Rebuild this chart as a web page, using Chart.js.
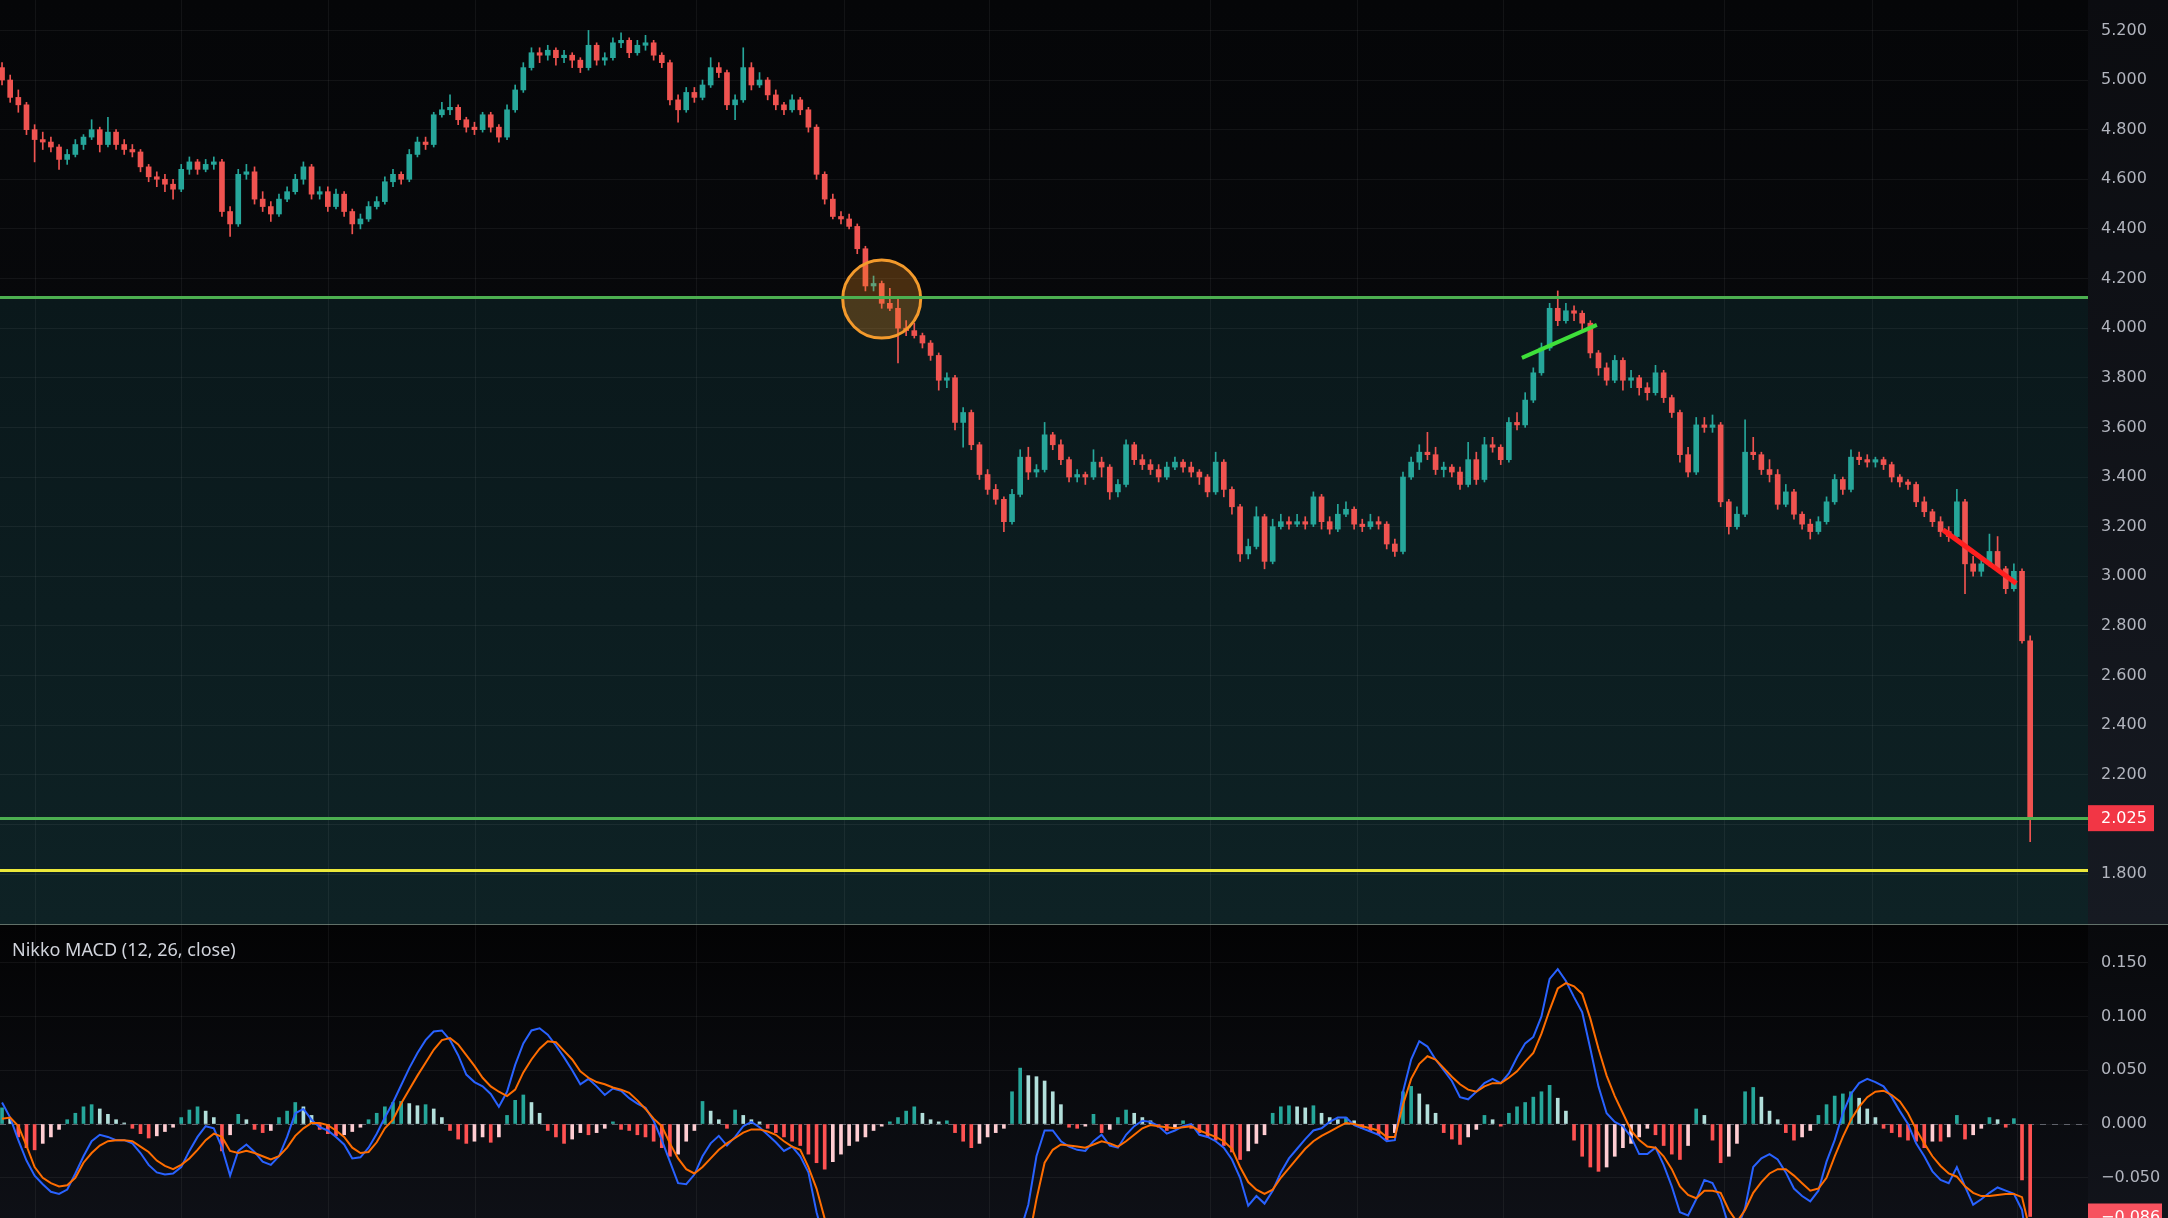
<!DOCTYPE html>
<html>
<head>
<meta charset="utf-8">
<title>Nikko MACD</title>
<script src="https://cdn.jsdelivr.net/npm/chart.js@4.4.1/dist/chart.umd.min.js"></script>
<style>
  html, body { margin: 0; padding: 0; background: #0b0c10; overflow: hidden; }
  canvas { display: block; }
</style>
</head>
<body>
<canvas id="price" width="2168" height="924" style="width:2168px;height:924px"></canvas>
<canvas id="macd" width="2168" height="294" style="width:2168px;height:294px"></canvas>
<script>
// candles
const opens = [
  5.05, 5.00, 4.93, 4.90, 4.80, 4.76, 4.75, 4.73, 4.68, 4.70,
  4.74, 4.77, 4.80, 4.74, 4.79, 4.74, 4.72, 4.71, 4.65, 4.61,
  4.60, 4.58, 4.56, 4.64, 4.67, 4.64, 4.66, 4.67, 4.47, 4.42,
  4.62, 4.63, 4.52, 4.49, 4.46, 4.52, 4.55, 4.60, 4.65, 4.54,
  4.55, 4.49, 4.54, 4.47, 4.42, 4.44, 4.49, 4.51, 4.59, 4.62,
  4.60, 4.70, 4.75, 4.74, 4.86, 4.88, 4.89, 4.84, 4.81, 4.80,
  4.86, 4.81, 4.77, 4.88, 4.96, 5.05, 5.11, 5.10, 5.12, 5.09,
  5.10, 5.08, 5.05, 5.14, 5.08, 5.09, 5.15, 5.16, 5.11, 5.14,
  5.15, 5.10, 5.07, 4.92, 4.88, 4.95, 4.93, 4.98, 5.05, 5.03,
  4.90, 4.92, 5.05, 4.98, 5.00, 4.94, 4.90, 4.88, 4.92, 4.88,
  4.81, 4.62, 4.52, 4.45, 4.44, 4.41, 4.32, 4.17, 4.18, 4.10,
  4.08, 4.00, 3.99, 3.97, 3.94, 3.89, 3.79, 3.80, 3.62, 3.66,
  3.53, 3.41, 3.35, 3.31, 3.22, 3.33, 3.48, 3.42, 3.43, 3.57,
  3.53, 3.47, 3.40, 3.41, 3.40, 3.46, 3.44, 3.34, 3.37, 3.53,
  3.47, 3.45, 3.43, 3.40, 3.44, 3.46, 3.44, 3.42, 3.40, 3.34,
  3.46, 3.35, 3.28, 3.09, 3.12, 3.24, 3.06, 3.20, 3.22, 3.21,
  3.22, 3.21, 3.32, 3.22, 3.19, 3.25, 3.27, 3.21, 3.20, 3.22,
  3.21, 3.13, 3.10, 3.40, 3.46, 3.50, 3.49, 3.43, 3.44, 3.42,
  3.37, 3.47, 3.39, 3.53, 3.52, 3.47, 3.62, 3.61, 3.71, 3.82,
  3.92, 4.08, 4.03, 4.07, 4.06, 4.02, 3.90, 3.84, 3.79, 3.87,
  3.79, 3.80, 3.76, 3.74, 3.82, 3.72, 3.66, 3.49, 3.42, 3.61,
  3.60, 3.61, 3.30, 3.20, 3.25, 3.50, 3.49, 3.43, 3.41, 3.29,
  3.34, 3.25, 3.21, 3.18, 3.22, 3.30, 3.39, 3.35, 3.48, 3.47,
  3.46, 3.47, 3.45, 3.40, 3.38, 3.37, 3.30, 3.26, 3.22, 3.18,
  3.16, 3.30, 3.05, 3.02, 3.05, 3.10, 3.03, 2.95, 3.02, 2.74
];
const highs = [
  5.07, 5.02, 4.96, 4.91, 4.82, 4.79, 4.77, 4.74, 4.72, 4.76,
  4.78, 4.84, 4.81, 4.85, 4.80, 4.76, 4.74, 4.72, 4.66, 4.63,
  4.62, 4.60, 4.66, 4.69, 4.68, 4.68, 4.69, 4.68, 4.49, 4.64,
  4.66, 4.65, 4.55, 4.51, 4.54, 4.57, 4.62, 4.67, 4.66, 4.57,
  4.57, 4.56, 4.55, 4.48, 4.46, 4.51, 4.53, 4.61, 4.64, 4.63,
  4.72, 4.77, 4.77, 4.87, 4.91, 4.94, 4.90, 4.85, 4.83, 4.87,
  4.87, 4.82, 4.90, 4.98, 5.07, 5.13, 5.13, 5.14, 5.13, 5.12,
  5.11, 5.09, 5.20, 5.15, 5.11, 5.17, 5.19, 5.17, 5.16, 5.18,
  5.16, 5.11, 5.08, 4.94, 4.97, 4.97, 5.00, 5.09, 5.07, 5.04,
  4.94, 5.13, 5.07, 5.03, 5.01, 4.96, 4.91, 4.94, 4.93, 4.89,
  4.82, 4.63, 4.54, 4.47, 4.46, 4.42, 4.33, 4.21, 4.19, 4.16,
  4.12, 4.03, 4.02, 3.98, 3.95, 3.90, 3.82, 3.81, 3.68, 3.67,
  3.54, 3.43, 3.37, 3.32, 3.35, 3.51, 3.52, 3.45, 3.62, 3.58,
  3.55, 3.48, 3.43, 3.42, 3.51, 3.48, 3.45, 3.39, 3.55, 3.54,
  3.49, 3.47, 3.45, 3.46, 3.48, 3.47, 3.46, 3.43, 3.41, 3.50,
  3.47, 3.36, 3.29, 3.15, 3.28, 3.25, 3.23, 3.25, 3.24, 3.25,
  3.24, 3.34, 3.33, 3.24, 3.29, 3.30, 3.28, 3.23, 3.25, 3.24,
  3.22, 3.15, 3.42, 3.48, 3.53, 3.58, 3.52, 3.46, 3.45, 3.44,
  3.54, 3.50, 3.56, 3.56, 3.53, 3.64, 3.66, 3.74, 3.84, 3.94,
  4.10, 4.15, 4.10, 4.09, 4.07, 4.03, 3.91, 3.86, 3.89, 3.88,
  3.83, 3.81, 3.78, 3.85, 3.83, 3.73, 3.67, 3.52, 3.64, 3.64,
  3.65, 3.62, 3.31, 3.28, 3.63, 3.56, 3.50, 3.47, 3.43, 3.37,
  3.35, 3.26, 3.23, 3.24, 3.32, 3.41, 3.40, 3.51, 3.50, 3.49,
  3.48, 3.48, 3.46, 3.41, 3.39, 3.38, 3.32, 3.27, 3.24, 3.20,
  3.35, 3.31, 3.08, 3.07, 3.17, 3.16, 3.04, 3.05, 3.03, 2.76
];
const lows = [
  4.98, 4.91, 4.87, 4.78, 4.67, 4.72, 4.71, 4.64, 4.66, 4.69,
  4.72, 4.76, 4.71, 4.73, 4.72, 4.70, 4.69, 4.63, 4.59, 4.57,
  4.55, 4.52, 4.55, 4.62, 4.62, 4.63, 4.64, 4.45, 4.37, 4.41,
  4.60, 4.50, 4.47, 4.43, 4.45, 4.51, 4.54, 4.58, 4.52, 4.52,
  4.47, 4.48, 4.45, 4.38, 4.40, 4.43, 4.48, 4.50, 4.57, 4.58,
  4.59, 4.69, 4.72, 4.73, 4.85, 4.86, 4.82, 4.79, 4.78, 4.79,
  4.79, 4.75, 4.76, 4.87, 4.95, 5.04, 5.07, 5.08, 5.06, 5.07,
  5.05, 5.03, 5.04, 5.06, 5.06, 5.08, 5.13, 5.09, 5.10, 5.12,
  5.08, 5.05, 4.90, 4.83, 4.87, 4.91, 4.92, 4.97, 5.01, 4.88,
  4.84, 4.91, 4.96, 4.97, 4.92, 4.88, 4.86, 4.87, 4.86, 4.79,
  4.60, 4.50, 4.44, 4.42, 4.40, 4.30, 4.15, 4.15, 4.08, 4.07,
  3.86, 3.97, 3.96, 3.92, 3.87, 3.75, 3.76, 3.59, 3.52, 3.51,
  3.39, 3.33, 3.29, 3.18, 3.21, 3.32, 3.39, 3.40, 3.42, 3.51,
  3.45, 3.38, 3.38, 3.37, 3.39, 3.40, 3.31, 3.32, 3.36, 3.45,
  3.43, 3.41, 3.38, 3.39, 3.43, 3.42, 3.40, 3.37, 3.32, 3.33,
  3.32, 3.25, 3.06, 3.07, 3.11, 3.03, 3.05, 3.19, 3.19, 3.20,
  3.19, 3.20, 3.19, 3.17, 3.18, 3.24, 3.19, 3.18, 3.19, 3.19,
  3.11, 3.08, 3.09, 3.39, 3.43, 3.47, 3.41, 3.40, 3.40, 3.35,
  3.36, 3.37, 3.38, 3.50, 3.45, 3.46, 3.59, 3.60, 3.70, 3.81,
  3.91, 4.01, 4.02, 4.03, 3.99, 3.88, 3.81, 3.77, 3.78, 3.75,
  3.76, 3.73, 3.71, 3.73, 3.70, 3.64, 3.46, 3.40, 3.41, 3.58,
  3.58, 3.28, 3.17, 3.19, 3.24, 3.47, 3.41, 3.38, 3.27, 3.28,
  3.23, 3.19, 3.15, 3.17, 3.21, 3.29, 3.33, 3.34, 3.45, 3.44,
  3.44, 3.43, 3.38, 3.36, 3.35, 3.28, 3.24, 3.20, 3.16, 3.14,
  3.15, 2.93, 3.00, 3.00, 3.04, 3.02, 2.93, 2.94, 2.73, 1.93
];
const closes = [
  5.00, 4.93, 4.90, 4.80, 4.76, 4.75, 4.73, 4.68, 4.70, 4.74,
  4.77, 4.80, 4.74, 4.79, 4.74, 4.72, 4.71, 4.65, 4.61, 4.60,
  4.58, 4.56, 4.64, 4.67, 4.64, 4.66, 4.67, 4.47, 4.42, 4.62,
  4.63, 4.52, 4.49, 4.46, 4.52, 4.55, 4.60, 4.65, 4.54, 4.55,
  4.49, 4.54, 4.47, 4.42, 4.44, 4.49, 4.51, 4.59, 4.62, 4.60,
  4.70, 4.75, 4.74, 4.86, 4.88, 4.89, 4.84, 4.81, 4.80, 4.86,
  4.81, 4.77, 4.88, 4.96, 5.05, 5.11, 5.10, 5.12, 5.09, 5.10,
  5.08, 5.05, 5.14, 5.08, 5.09, 5.15, 5.16, 5.11, 5.14, 5.15,
  5.10, 5.07, 4.92, 4.88, 4.95, 4.93, 4.98, 5.05, 5.03, 4.90,
  4.92, 5.05, 4.98, 5.00, 4.94, 4.90, 4.88, 4.92, 4.88, 4.81,
  4.62, 4.52, 4.45, 4.44, 4.41, 4.32, 4.17, 4.18, 4.10, 4.08,
  4.00, 3.99, 3.97, 3.94, 3.89, 3.79, 3.80, 3.62, 3.66, 3.53,
  3.41, 3.35, 3.31, 3.22, 3.33, 3.48, 3.42, 3.43, 3.57, 3.53,
  3.47, 3.40, 3.41, 3.40, 3.46, 3.44, 3.34, 3.37, 3.53, 3.47,
  3.45, 3.43, 3.40, 3.44, 3.46, 3.44, 3.42, 3.40, 3.34, 3.46,
  3.35, 3.28, 3.09, 3.12, 3.24, 3.06, 3.20, 3.22, 3.21, 3.22,
  3.21, 3.32, 3.22, 3.19, 3.25, 3.27, 3.21, 3.20, 3.22, 3.21,
  3.13, 3.10, 3.40, 3.46, 3.50, 3.49, 3.43, 3.44, 3.42, 3.37,
  3.47, 3.39, 3.53, 3.52, 3.47, 3.62, 3.61, 3.71, 3.82, 3.92,
  4.08, 4.03, 4.07, 4.06, 4.02, 3.90, 3.84, 3.79, 3.87, 3.79,
  3.80, 3.76, 3.74, 3.82, 3.72, 3.66, 3.49, 3.42, 3.61, 3.60,
  3.61, 3.30, 3.20, 3.25, 3.50, 3.49, 3.43, 3.41, 3.29, 3.34,
  3.25, 3.21, 3.18, 3.22, 3.30, 3.39, 3.35, 3.48, 3.47, 3.46,
  3.47, 3.45, 3.40, 3.38, 3.37, 3.30, 3.26, 3.22, 3.18, 3.16,
  3.30, 3.05, 3.02, 3.05, 3.10, 3.03, 2.95, 3.02, 2.74, 2.025
];

// Nikko MACD (12, 26, close)
const macdLine = [
  0.020, 0.006, -0.015, -0.034, -0.048, -0.056, -0.063, -0.065, -0.061, -0.046,
  -0.030, -0.016, -0.010, -0.012, -0.015, -0.015, -0.018, -0.027, -0.038, -0.045,
  -0.047, -0.046, -0.040, -0.025, -0.012, -0.002, -0.004, -0.022, -0.048, -0.025,
  -0.019, -0.026, -0.035, -0.038, -0.030, -0.012, 0.010, 0.014, 0.004, -0.003,
  -0.006, -0.012, -0.019, -0.032, -0.031, -0.022, -0.009, 0.006, 0.020, 0.036,
  0.052, 0.066, 0.078, 0.086, 0.087, 0.078, 0.064, 0.046, 0.039, 0.035,
  0.028, 0.016, 0.030, 0.055, 0.075, 0.087, 0.089, 0.083, 0.073, 0.062,
  0.050, 0.037, 0.042, 0.035, 0.027, 0.033, 0.031, 0.024, 0.019, 0.015,
  0.003, -0.015, -0.035, -0.055, -0.056, -0.047, -0.030, -0.018, -0.011, -0.020,
  -0.012, -0.002, 0.002, -0.003, -0.010, -0.017, -0.025, -0.021, -0.030, -0.045,
  -0.082, -0.110, -0.135, -0.155, -0.170, -0.185, -0.200, -0.210, -0.215, -0.222,
  -0.225, -0.228, -0.230, -0.235, -0.236, -0.232, -0.225, -0.215, -0.200, -0.180,
  -0.160, -0.150, -0.140, -0.130, -0.120, -0.100, -0.075, -0.030, -0.006, -0.006,
  -0.016, -0.021, -0.024, -0.025, -0.016, -0.010, -0.020, -0.022, -0.010, -0.002,
  0.003, 0.002, -0.002, -0.009, -0.006, -0.002, 0.000, -0.010, -0.012, -0.016,
  -0.022, -0.033, -0.050, -0.076, -0.067, -0.074, -0.062, -0.045, -0.032, -0.023,
  -0.014, -0.006, -0.004, 0.002, 0.006, 0.006, -0.001, -0.004, -0.007, -0.010,
  -0.016, -0.015, 0.030, 0.060, 0.077, 0.072, 0.060, 0.050, 0.040, 0.025,
  0.023, 0.030, 0.038, 0.042, 0.038, 0.047, 0.062, 0.075, 0.081, 0.100,
  0.135, 0.144, 0.133, 0.118, 0.104, 0.070, 0.035, 0.010, 0.002, -0.002,
  -0.012, -0.028, -0.028, -0.022, -0.038, -0.058, -0.082, -0.085, -0.070, -0.052,
  -0.055, -0.070, -0.095, -0.098, -0.078, -0.040, -0.032, -0.028, -0.033, -0.045,
  -0.060, -0.067, -0.072, -0.062, -0.035, -0.015, 0.010, 0.028, 0.038, 0.042,
  0.039, 0.035, 0.025, 0.012, 0.000, -0.018, -0.030, -0.044, -0.052, -0.055,
  -0.040, -0.058, -0.075, -0.070, -0.064, -0.059, -0.062, -0.065, -0.080, -0.130
];
const signalLine = [
  0.005, 0.006, -0.002, -0.020, -0.040, -0.050, -0.055, -0.058, -0.057, -0.050,
  -0.036, -0.027, -0.020, -0.016, -0.015, -0.015, -0.016, -0.021, -0.026, -0.034,
  -0.039, -0.042, -0.038, -0.032, -0.024, -0.015, -0.009, -0.012, -0.025, -0.027,
  -0.025, -0.027, -0.030, -0.033, -0.030, -0.022, -0.011, -0.004, 0.001, 0.001,
  -0.001, -0.006, -0.012, -0.022, -0.027, -0.026, -0.017, -0.004, 0.004, 0.019,
  0.032, 0.045, 0.057, 0.069, 0.078, 0.080, 0.074, 0.064, 0.054, 0.043,
  0.035, 0.030, 0.026, 0.032, 0.048, 0.060, 0.070, 0.077, 0.076, 0.068,
  0.060, 0.049, 0.043, 0.039, 0.037, 0.034, 0.032, 0.029, 0.022, 0.014,
  0.005, -0.002, -0.018, -0.032, -0.042, -0.046, -0.040, -0.032, -0.024, -0.018,
  -0.013, -0.008, -0.005, -0.005, -0.007, -0.010, -0.016, -0.021, -0.024, -0.040,
  -0.060, -0.088, -0.110, -0.130, -0.145, -0.160, -0.170, -0.180, -0.190, -0.200,
  -0.205, -0.210, -0.215, -0.220, -0.222, -0.225, -0.225, -0.224, -0.220, -0.214,
  -0.200, -0.190, -0.178, -0.165, -0.150, -0.135, -0.110, -0.070, -0.036, -0.024,
  -0.019, -0.020, -0.021, -0.022, -0.019, -0.016, -0.018, -0.021, -0.016, -0.010,
  -0.004, -0.001, -0.002, -0.003, -0.004, -0.003, -0.002, -0.006, -0.009, -0.012,
  -0.016, -0.023, -0.040, -0.054, -0.061, -0.065, -0.061, -0.050, -0.041, -0.032,
  -0.023, -0.016, -0.011, -0.007, -0.003, 0.001, 0.000, -0.002, -0.004, -0.006,
  -0.012, -0.012, 0.018, 0.042, 0.056, 0.063, 0.060, 0.052, 0.044, 0.037,
  0.032, 0.030, 0.035, 0.038, 0.038, 0.043, 0.049, 0.058, 0.066, 0.084,
  0.106, 0.126, 0.131, 0.128, 0.121, 0.098, 0.070, 0.045, 0.026, 0.010,
  -0.006, -0.015, -0.021, -0.022, -0.030, -0.042, -0.058, -0.066, -0.069, -0.062,
  -0.062, -0.064, -0.080, -0.091, -0.080, -0.064, -0.054, -0.046, -0.042, -0.042,
  -0.048, -0.055, -0.062, -0.060, -0.050, -0.030, -0.012, 0.004, 0.016, 0.025,
  0.030, 0.031, 0.027, 0.021, 0.010, -0.005, -0.018, -0.030, -0.039, -0.046,
  -0.049, -0.058, -0.064, -0.067, -0.067, -0.066, -0.065, -0.065, -0.068, -0.100
];
const hist = [
  0.015, 0.005, -0.012, -0.022, -0.024, -0.018, -0.012, -0.005, 0.004, 0.010,
  0.016, 0.018, 0.014, 0.009, 0.004, 0.001, -0.004, -0.009, -0.013, -0.011,
  -0.007, -0.003, 0.006, 0.013, 0.016, 0.012, 0.006, -0.025, -0.010, 0.009,
  0.004, -0.005, -0.008, -0.006, 0.006, 0.012, 0.020, 0.016, 0.008, -0.005,
  -0.009, -0.011, -0.010, -0.007, -0.003, 0.004, 0.010, 0.016, 0.020, 0.021,
  0.019, 0.017, 0.018, 0.014, 0.006, -0.006, -0.014, -0.018, -0.016, -0.012,
  -0.017, -0.012, 0.008, 0.022, 0.027, 0.020, 0.010, -0.006, -0.012, -0.018,
  -0.014, -0.008, -0.010, -0.008, -0.004, 0.002, -0.005, -0.006, -0.010, -0.012,
  -0.016, -0.022, -0.030, -0.028, -0.016, -0.006, 0.021, 0.012, 0.004, -0.004,
  0.013, 0.008, 0.004, 0.002, -0.004, -0.008, -0.012, -0.016, -0.020, -0.028,
  -0.036, -0.042, -0.035, -0.028, -0.020, -0.016, -0.012, -0.006, -0.002, 0.002,
  0.006, 0.012, 0.016, 0.010, 0.004, 0.002, 0.003, -0.008, -0.016, -0.022,
  -0.018, -0.012, -0.008, -0.004, 0.030, 0.052, 0.045, 0.044, 0.040, 0.030,
  0.018, -0.003, -0.004, -0.002, 0.009, -0.008, -0.005, 0.006, 0.013, 0.010,
  0.006, 0.003, -0.003, -0.006, -0.004, 0.003, -0.004, -0.008, -0.012, -0.015,
  -0.020, -0.026, -0.033, -0.025, -0.018, -0.010, 0.010, 0.016, 0.017, 0.016,
  0.015, 0.017, 0.010, 0.006, 0.004, 0.006, 0.003, -0.004, -0.007, -0.010,
  -0.015, -0.008, 0.030, 0.035, 0.028, 0.018, 0.010, -0.008, -0.014, -0.019,
  -0.012, -0.005, 0.008, 0.004, -0.002, 0.010, 0.016, 0.020, 0.025, 0.030,
  0.036, 0.024, 0.012, -0.015, -0.030, -0.040, -0.044, -0.040, -0.030, -0.022,
  -0.018, -0.012, -0.004, -0.010, -0.020, -0.028, -0.033, -0.020, 0.014, 0.008,
  -0.015, -0.036, -0.030, -0.018, 0.030, 0.034, 0.025, 0.012, 0.004, -0.008,
  -0.015, -0.012, -0.006, 0.008, 0.018, 0.026, 0.028, 0.030, 0.024, 0.014,
  0.006, -0.004, -0.008, -0.012, -0.015, -0.016, -0.022, -0.016, -0.016, -0.012,
  0.008, -0.014, -0.010, -0.004, 0.006, 0.004, -0.003, 0.005, -0.052, -0.086
];

// axis ticks and drawings
const priceTicks = [1.8, 2.0, 2.2, 2.4, 2.6, 2.8, 3.0, 3.2, 3.4, 3.6, 3.8, 4.0, 4.2, 4.4, 4.6, 4.8, 5.0, 5.2];
const macdTicks = [-0.05, 0, 0.05, 0.10, 0.15];
const timeGrid = [4.05, 21.98, 40.02, 58.07, 85.2, 103.4, 121.2, 148.4, 166.4, 184.4, 211.5, 229.6, 247.5];
const levels = [4.125, 2.025, 1.815];
const circleAt = [{ x: 108, y: 4.117 }];
const greenTrend = [{ x: 186.6, y: 3.880 }, { x: 195.8, y: 4.013 }];
const redTrend = [{ x: 238.3, y: 3.187 }, { x: 247.3, y: 2.971 }];

Chart.defaults.font.family = "'DejaVu Sans', sans-serif";
Chart.defaults.font.size = 16;

const UP = '#26a69a', DOWN = '#ef5350';
const GRID = 'rgba(255, 255, 255, 0.055)';
const AXIS_W = 80;
const idx = closes.map((_, i) => i);
const lastClose = closes[closes.length - 1];

const candleColor = c => closes[c.dataIndex] >= opens[c.dataIndex] ? UP : DOWN;

function histColor(c) {
  let i = c.dataIndex, v = hist[i], prev = i > 0 ? hist[i - 1] : 0;
  if (v >= 0) return prev < v ? '#26a69a' : '#b2dfdb';
  return prev < v ? '#ffcdd2' : '#ff5252';
}

const fmt = v => (v < -1e-9 ? '\u2212' : '') + Math.abs(v).toFixed(3);

function xAxis() {
  return {
    type: 'linear', min: -0.25, max: 256.1,
    offset: false,
    ticks: { display: false, autoSkip: false },
    grid: { color: GRID, drawTicks: false, offset: false },
    border: { display: false },
    afterBuildTicks: s => { s.ticks = timeGrid.map(v => ({ value: v })); },
    afterFit: s => { s.height = 0; s.paddingLeft = 0; s.paddingRight = 0; }
  };
}

function yAxis(min, max, tickValues, label) {
  return {
    position: 'right', min: min, max: max,
    ticks: { color: '#b2b5be', padding: 13, autoSkip: false, callback: label },
    grid: { color: GRID, drawTicks: false },
    border: { display: false },
    afterBuildTicks: s => { s.ticks = tickValues.map(v => ({ value: v })); },
    afterFit: s => { s.width = AXIS_W; s.paddingTop = 0; s.paddingBottom = 0; }
  };
}

function valueTag(ctx, x, y, w, color, text) {
  ctx.fillStyle = color;
  ctx.fillRect(x, y - 13, w, 26);
  ctx.fillStyle = '#ffffff';
  ctx.font = "16px 'DejaVu Sans'";
  ctx.textAlign = 'left';
  ctx.textBaseline = 'middle';
  ctx.fillText(text, x + 13, y + 1);
}

const pricePane = {
  id: 'pricePane',
  beforeDraw(chart) {
    let { ctx, chartArea: a, scales: { y } } = chart;
    ctx.save();
    let g = ctx.createLinearGradient(0, a.top, 0, a.bottom);
    g.addColorStop(0, '#050608');
    g.addColorStop(1, '#0b0c10');
    ctx.fillStyle = g;
    ctx.fillRect(a.left, a.top, a.right - a.left, a.bottom - a.top);

    g = ctx.createLinearGradient(0, 0, 0, chart.height);
    g.addColorStop(0, '#0b0c10');
    g.addColorStop(1, '#161a22');
    ctx.fillStyle = g;
    ctx.fillRect(a.right, 0, chart.width - a.right, chart.height);

    let top = y.getPixelForValue(levels[0]);
    g = ctx.createLinearGradient(0, top, 0, a.bottom);
    g.addColorStop(0, '#0a181b');
    g.addColorStop(1, '#0e2225');
    ctx.fillStyle = g;
    ctx.fillRect(a.left, top, a.right - a.left, a.bottom - top);
    ctx.restore();
  },
  afterDatasetsDraw(chart) {
    let { ctx, chartArea: a, scales: { y } } = chart;
    let colors = ['#4caf50', '#4caf50', '#ece83a'];
    ctx.save();
    ctx.lineWidth = 3;
    levels.forEach((v, i) => {
      let py = Math.round(y.getPixelForValue(v)) + 0.5;
      ctx.strokeStyle = colors[i];
      ctx.beginPath();
      ctx.moveTo(a.left, py);
      ctx.lineTo(a.right, py);
      ctx.stroke();
    });
    ctx.restore();
  },
  afterDraw(chart) {
    let { ctx, chartArea: a, scales: { y } } = chart;
    ctx.save();
    valueTag(ctx, a.right, y.getPixelForValue(lastClose), 66, '#f23645', lastClose.toFixed(3));
    ctx.restore();
  }
};

const macdPane = {
  id: 'macdPane',
  beforeDraw(chart) {
    let { ctx, chartArea: a } = chart;
    ctx.save();
    let g = ctx.createLinearGradient(0, a.top, 0, a.bottom);
    g.addColorStop(0, '#030304');
    g.addColorStop(1, '#0e1016');
    ctx.fillStyle = g;
    ctx.fillRect(a.left, a.top, a.right - a.left, a.bottom - a.top);
    g = ctx.createLinearGradient(0, 0, 0, chart.height);
    g.addColorStop(0, '#08090c');
    g.addColorStop(1, '#12141b');
    ctx.fillStyle = g;
    ctx.fillRect(a.right, 0, chart.width - a.right, chart.height);
    ctx.restore();
  },
  beforeDatasetsDraw(chart) {
    let { ctx, chartArea: a, scales: { y } } = chart;
    let py = Math.round(y.getPixelForValue(0)) + 0.5;
    ctx.save();
    ctx.strokeStyle = 'rgba(120, 123, 134, 0.75)';
    ctx.lineWidth = 1;
    ctx.setLineDash([6, 6]);
    ctx.beginPath();
    ctx.moveTo(a.left, py);
    ctx.lineTo(a.right, py);
    ctx.stroke();
    ctx.restore();
  },
  afterDraw(chart) {
    let { ctx, chartArea: a, scales: { y } } = chart;
    ctx.save();
    ctx.fillStyle = '#d1d4dc';
    ctx.font = "18px 'Noto Sans'";
    ctx.textAlign = 'left';
    ctx.textBaseline = 'middle';
    ctx.fillText('Nikko MACD (12, 26, close)', 12, 27);

    ctx.strokeStyle = 'rgba(160, 185, 172, 0.6)';
    ctx.lineWidth = 1;
    ctx.beginPath();
    ctx.moveTo(0, 0.5);
    ctx.lineTo(chart.width, 0.5);
    ctx.stroke();

    let lastHist = hist[hist.length - 1];
    valueTag(ctx, a.right, y.getPixelForValue(lastHist), 74, '#f7525f', fmt(lastHist));
    ctx.restore();
  }
};

const common = {
  responsive: false,
  animation: false,
  events: [],
  layout: { padding: 0, autoPadding: false },
  plugins: { legend: { display: false }, tooltip: { enabled: false } }
};

let priceChart = new Chart(document.getElementById('price'), {
  type: 'bar',
  data: {
    datasets: [
      {
        type: 'bubble',
        data: circleAt,
        radius: 39,
        backgroundColor: 'rgba(242, 142, 32, 0.28)',
        borderColor: '#f39a2c',
        borderWidth: 3,
        order: 0
      },
      { type: 'line', data: greenTrend, borderColor: '#3ee03a', borderWidth: 4, pointRadius: 0, order: 0 },
      { type: 'line', data: redTrend, borderColor: '#ff1f1f', borderWidth: 5, pointRadius: 0, order: 0 },
      {
        label: 'wicks',
        data: idx.map(i => ({ x: i, y: [lows[i], highs[i]] })),
        backgroundColor: candleColor,
        barThickness: 1,
        grouped: false,
        order: 2
      },
      {
        label: 'bodies',
        data: idx.map(i => ({ x: i, y: [opens[i], closes[i]] })),
        backgroundColor: candleColor,
        barThickness: 5,
        grouped: false,
        order: 1
      }
    ]
  },
  options: Object.assign({}, common, {
    scales: {
      x: xAxis(),
      y: yAxis(1.5985, 5.3225, priceTicks,
        v => Math.abs(v - lastClose) < 0.05 ? '' : v.toFixed(3))
    }
  }),
  plugins: [pricePane]
});

let macdChart = new Chart(document.getElementById('macd'), {
  type: 'bar',
  data: {
    datasets: [
      {
        label: 'Histogram',
        data: idx.map(i => ({ x: i, y: hist[i] })),
        backgroundColor: histColor,
        barThickness: 3,
        order: 3
      },
      {
        type: 'line', label: 'MACD',
        data: idx.map(i => ({ x: i, y: macdLine[i] })),
        borderColor: '#2962ff', borderWidth: 2, pointRadius: 0, order: 2
      },
      {
        type: 'line', label: 'Signal',
        data: idx.map(i => ({ x: i, y: signalLine[i] })),
        borderColor: '#ff6d00', borderWidth: 2, pointRadius: 0, order: 1
      }
    ]
  },
  options: Object.assign({}, common, {
    scales: {
      x: xAxis(),
      y: yAxis(-0.0874, 0.186, macdTicks, fmt)
    }
  }),
  plugins: [macdPane]
});
</script>
</body>
</html>
